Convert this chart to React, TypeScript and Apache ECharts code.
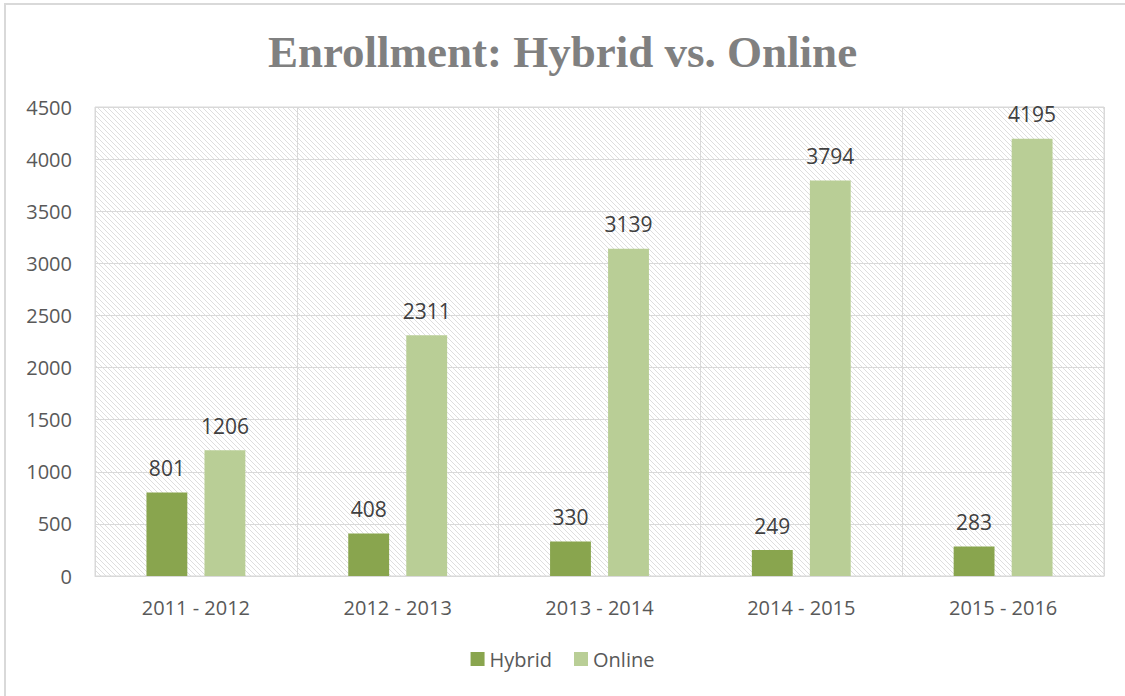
import React, { useEffect, useRef } from "react";
import * as echarts from "echarts";

const categories = ["2011 - 2012", "2012 - 2013", "2013 - 2014", "2014 - 2015", "2015 - 2016"];
const hybrid = [801, 408, 330, 249, 283];
const online = [1206, 2311, 3139, 3794, 4195];
const seriesNames = ["Hybrid", "Online"];
const titleText = "Enrollment: Hybrid vs. Online";

function makeHatch(): HTMLCanvasElement {
  const n = 5;
  const c = document.createElement("canvas");
  c.width = n;
  c.height = n;
  const ctx = c.getContext("2d")!;
  ctx.fillStyle = "#ffffff";
  ctx.fillRect(0, 0, n, n);
  ctx.fillStyle = "#dedede";
  for (let i = 0; i < n; i++) ctx.fillRect(i, i, 1, 1);
  return c;
}

export default function App() {
  const ref = useRef<HTMLDivElement>(null);
  useEffect(() => {
    if (!ref.current) return;
    const chart = echarts.init(ref.current, undefined, { renderer: "svg" });
    const font = "'Open Sans', sans-serif";
    const labelStyle = {
      show: true,
      position: "top" as const,
      distance: 14,
      color: "#404040",
      fontSize: 21,
      fontFamily: font,
    };
    chart.setOption({
      animation: false,
      backgroundColor: "#ffffff",
      title: {
        text: titleText,
        left: "center",
        top: 24,
        textStyle: {
          fontFamily: "'Liberation Serif', serif",
          fontWeight: "bold",
          fontSize: 45,
          color: "#808080",
        },
      },
      graphic: [
        {
          type: "rect",
          shape: { x: 5, y: 4, width: 1200, height: 800 },
          style: { fill: "none", stroke: "#d9d9d9", lineWidth: 2 },
          silent: true,
        },
      ],
      legend: {
        bottom: 22,
        left: "center",
        itemWidth: 14,
        itemHeight: 14,
        itemGap: 22,
        icon: "rect",
        textStyle: { color: "#595959", fontSize: 20, fontFamily: font },
        data: seriesNames,
      },
      grid: {
        left: 95,
        right: 21,
        top: 107,
        bottom: 120,
        show: true,
        borderColor: "#d9d9d9",
        borderWidth: 1,
        backgroundColor: { image: makeHatch(), repeat: "repeat" },
      },
      xAxis: {
        type: "category",
        data: categories,
        axisTick: { show: false },
        axisLine: { show: true, lineStyle: { color: "#d9d9d9", width: 1 } },
        splitLine: { show: true, lineStyle: { color: "#d9d9d9", width: 1 } },
        axisLabel: { color: "#595959", fontSize: 20, fontFamily: font, margin: 21 },
      },
      yAxis: {
        type: "value",
        min: 0,
        max: 4500,
        interval: 500,
        axisLine: { show: false },
        axisTick: { show: false },
        splitLine: { show: true, lineStyle: { color: "#d9d9d9", width: 1 } },
        axisLabel: {
          color: "#595959",
          fontSize: 20,
          fontFamily: font,
          margin: 23,
          formatter: (v: number) => String(v),
        },
      },
      series: [
        {
          name: seriesNames[0],
          type: "bar",
          data: hybrid,
          itemStyle: { color: "#89a54e" },
          barGap: "42%",
          barCategoryGap: "51%",
          label: labelStyle,
        },
        {
          name: seriesNames[1],
          type: "bar",
          data: online,
          itemStyle: { color: "#b9ce96" },
          barGap: "42%",
          barCategoryGap: "51%",
          label: labelStyle,
        },
      ],
    });
    return () => chart.dispose();
  }, []);
  return (
    <div
      ref={ref}
      style={{ position: "fixed", left: 0, top: 0, width: 1125, height: 696 }}
    />
  );
}
